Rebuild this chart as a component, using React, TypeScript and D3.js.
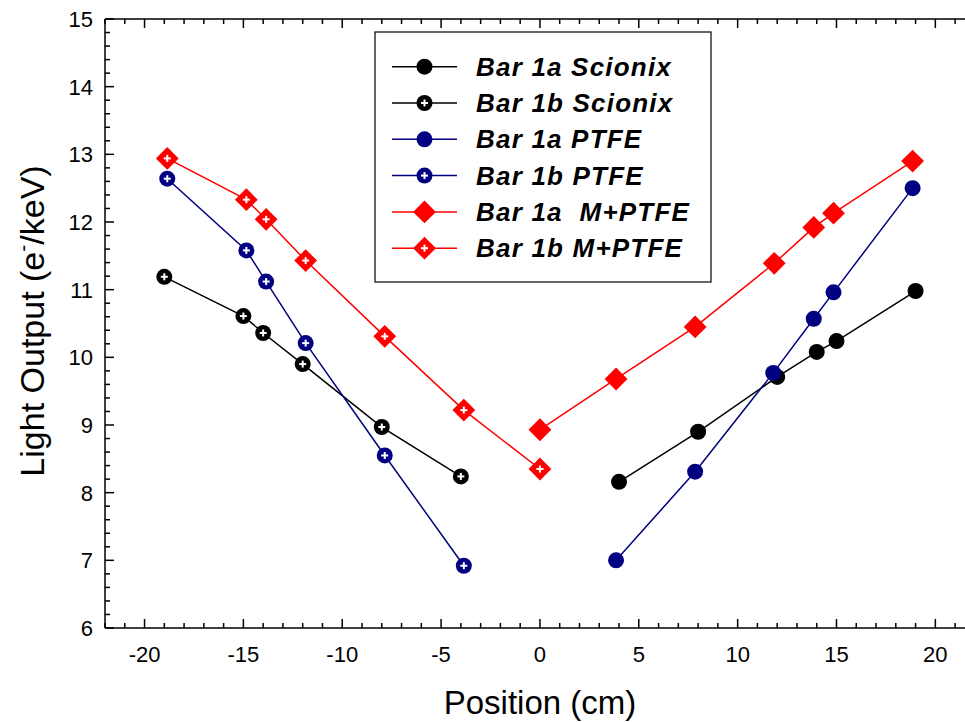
import React from 'react';
import * as d3 from 'd3';

// values
const scionix1aX = [4, 8, 12, 14, 15, 19];
const scionix1aY = [8.16, 8.9, 9.71, 10.08, 10.24, 10.98];
const scionix1bX = [-19, -15, -14, -12, -8, -4];
const scionix1bY = [11.19, 10.61, 10.36, 9.9, 8.97, 8.24];
const ptfe1aX = [3.85, 7.85, 11.8, 13.85, 14.85, 18.85];
const ptfe1aY = [7.0, 8.31, 9.77, 10.57, 10.96, 12.5];
const ptfe1bX = [-18.85, -14.85, -13.85, -11.85, -7.85, -3.85];
const ptfe1bY = [12.64, 11.58, 11.12, 10.21, 8.55, 6.92];
const mptfe1aX = [0, 3.85, 7.85, 11.85, 13.85, 14.85, 18.85];
const mptfe1aY = [8.93, 9.68, 10.45, 11.39, 11.92, 12.13, 12.9];
const mptfe1bX = [-18.85, -14.85, -13.85, -11.85, -7.85, -3.85, 0];
const mptfe1bY = [12.94, 12.33, 12.04, 11.43, 10.31, 9.22, 8.35];

const xMajorTicks = [-20, -15, -10, -5, 0, 5, 10, 15, 20];
const yMajorTicks = [6, 7, 8, 9, 10, 11, 12, 13, 14, 15];

const series = [
  { name: 'Bar 1a Scionix', xs: scionix1aX, ys: scionix1aY, color: '#000000', shape: 'circle', open: false },
  { name: 'Bar 1b Scionix', xs: scionix1bX, ys: scionix1bY, color: '#000000', shape: 'circle', open: true },
  { name: 'Bar 1a PTFE', xs: ptfe1aX, ys: ptfe1aY, color: '#000080', shape: 'circle', open: false },
  { name: 'Bar 1b PTFE', xs: ptfe1bX, ys: ptfe1bY, color: '#000080', shape: 'circle', open: true },
  { name: 'Bar 1a  M+PTFE', xs: mptfe1aX, ys: mptfe1aY, color: '#ff0000', shape: 'diamond', open: false },
  { name: 'Bar 1b M+PTFE', xs: mptfe1bX, ys: mptfe1bY, color: '#ff0000', shape: 'diamond', open: true },
];

const W = 965;
const H = 722;
const FONT = '"Liberation Sans", Arial, sans-serif';

const Marker = ({ x, y, color, shape, open }) => {
  const body =
    shape === 'diamond' ? (
      <path d={d3.symbol(d3.symbolSquare, 260)()} transform={`translate(${x},${y}) rotate(45)`} fill={color} />
    ) : (
      <circle cx={x} cy={y} r={8} fill={color} />
    );
  return (
    <g>
      {body}
      {open && (
        <g fill="#fff">
          <rect x={x - 3.5} y={y - 1} width={7} height={2} />
          <rect x={x - 1} y={y - 3.5} width={2} height={7} />
        </g>
      )}
    </g>
  );
};

export default function App() {
  const x = d3.scaleLinear().domain([-22, 21.5]).range([105, 965]);
  const y = d3.scaleLinear().domain([6, 15]).range([628, 19]);

  const xMinor = d3.range(-22, 22, 1).filter((v) => v % 5 !== 0);
  const yMinor = d3.range(6, 15.001, 0.2).map((v) => +v.toFixed(1)).filter((v) => Math.abs(v - Math.round(v)) > 0.01);

  const line = d3.line<[number, number]>().x((d) => x(d[0])).y((d) => y(d[1]));

  const legX = 375;
  const legY = 32;
  const rowH = 36.3;

  return (
    <svg width={W} height={H} style={{ position: 'absolute', left: 0, top: 0, background: '#fff' }} fontFamily={FONT}>
      <rect width={W} height={H} fill="#fff" />

      {/* axes */}
      <g stroke="#000" strokeWidth={1.5}>
        <line x1={x.range()[0]} x2={x.range()[1]} y1={y(6)} y2={y(6)} />
        <line x1={x.range()[0]} x2={x.range()[1]} y1={y(15)} y2={y(15)} />
        <line x1={x(-22)} x2={x(-22)} y1={y(6)} y2={y(15)} />
        {xMajorTicks.map((t) => (
          <g key={'xM' + t}>
            <line x1={x(t)} x2={x(t)} y1={y(6)} y2={y(6) - 9} />
            <line x1={x(t)} x2={x(t)} y1={y(15)} y2={y(15) + 9} />
          </g>
        ))}
        {xMinor.map((t) => (
          <g key={'xm' + t}>
            <line x1={x(t)} x2={x(t)} y1={y(6)} y2={y(6) - 5} />
            <line x1={x(t)} x2={x(t)} y1={y(15)} y2={y(15) + 5} />
          </g>
        ))}
        {yMajorTicks.map((t) => (
          <line key={'yM' + t} x1={x(-22)} x2={x(-22) + 9} y1={y(t)} y2={y(t)} />
        ))}
        {yMinor.map((t) => (
          <line key={'ym' + t} x1={x(-22)} x2={x(-22) + 5} y1={y(t)} y2={y(t)} />
        ))}
      </g>

      {/* tick labels */}
      <g fontSize={22} fill="#000">
        {xMajorTicks.map((t) => (
          <text key={'xl' + t} x={x(t)} y={662} textAnchor="middle">
            {String(t)}
          </text>
        ))}
        {yMajorTicks.map((t) => (
          <text key={'yl' + t} x={93} y={y(t) + 8} textAnchor="end">
            {String(t)}
          </text>
        ))}
      </g>

      {/* axis titles */}
      <text x={540} y={714} fontSize={33} textAnchor="middle">
        Position (cm)
      </text>
      <text transform={`translate(44,321) rotate(-90)`} fontSize={34} textAnchor="middle">
        Light Output (e
        <tspan fontSize={21} dy={-14}>-</tspan>
        <tspan dy={14}>/keV)</tspan>
      </text>

      {/* series */}
      {series.map((s) => {
        const pts = s.xs.map((v, i) => [v, s.ys[i]] as [number, number]);
        return (
          <g key={s.name}>
            <path d={line(pts) || ''} fill="none" stroke={s.color} strokeWidth={1.5} />
            {pts.map((p, i) => (
              <Marker key={i} x={x(p[0])} y={y(p[1])} color={s.color} shape={s.shape} open={s.open} />
            ))}
          </g>
        );
      })}

      {/* legend */}
      <g>
        <rect x={legX} y={legY} width={336} height={250} fill="#fff" stroke="#000" strokeWidth={1.2} />
        {series.map((s, i) => {
          const cy = legY + 34.7 + i * rowH;
          return (
            <g key={'leg' + s.name}>
              <line x1={392} x2={457} y1={cy} y2={cy} stroke={s.color} strokeWidth={1.5} />
              <Marker x={424.5} y={cy} color={s.color} shape={s.shape} open={s.open} />
              <text
                x={476}
                y={cy + 9}
                fontSize={26}
                fontWeight="bold"
                fontStyle="italic"
                letterSpacing={1.2}
                style={{ whiteSpace: 'pre' }}
              >
                {s.name}
              </text>
            </g>
          );
        })}
      </g>
    </svg>
  );
}
